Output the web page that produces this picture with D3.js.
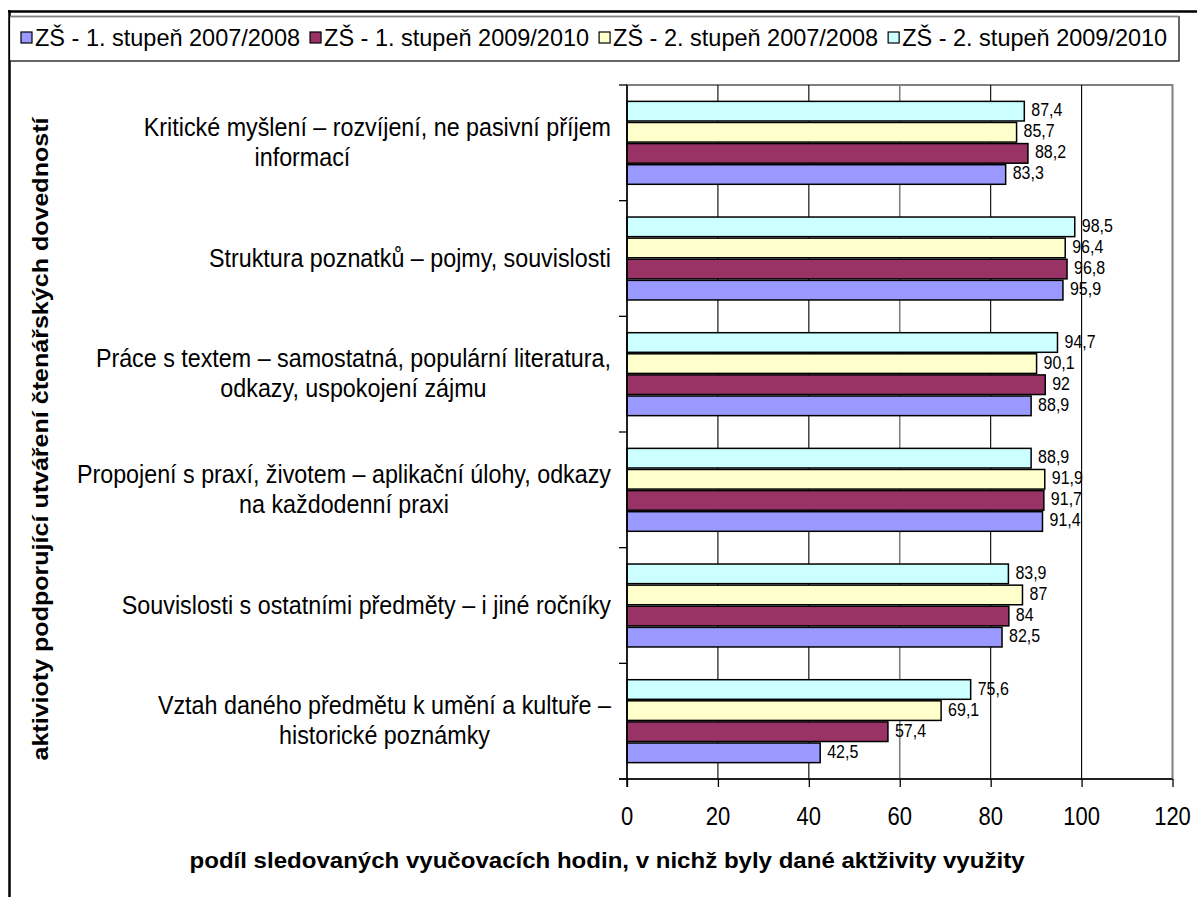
<!DOCTYPE html>
<html>
<head>
<meta charset="utf-8">
<script src="https://cdn.jsdelivr.net/npm/d3@7"></script>
<style>
html,body{margin:0;padding:0;background:#fff;}
svg{display:block;}
text{font-family:"Liberation Sans",Arial,sans-serif;fill:#000;}
</style>
</head>
<body>
<svg id="chart" width="1197" height="897"></svg>
<script>
// ---- data ----
const categories = [
  ["Kritické myšlení – rozvíjení, ne pasivní příjem", "informací"],
  ["Struktura poznatků – pojmy, souvislosti"],
  ["Práce s textem – samostatná, populární literatura,", "odkazy, uspokojení zájmu"],
  ["Propojení s praxí, životem – aplikační úlohy, odkazy", "na každodenní praxi"],
  ["Souvislosti s ostatními předměty – i jiné ročníky"],
  ["Vztah daného předmětu k umění a kultuře –", "historické poznámky"]
];
const seriesNames = ["ZŠ - 1. stupeň 2007/2008", "ZŠ - 1. stupeň 2009/2010", "ZŠ - 2. stupeň 2007/2008", "ZŠ - 2. stupeň 2009/2010"];
const seriesColors = ["#9999FF", "#993366", "#FFFFCC", "#CCFFFF"];
const s1_0708 = [83.3, 95.9, 88.9, 91.4, 82.5, 42.5];
const s1_0910 = [88.2, 96.8, 92, 91.7, 84, 57.4];
const s2_0708 = [85.7, 96.4, 90.1, 91.9, 87, 69.1];
const s2_0910 = [87.4, 98.5, 94.7, 88.9, 83.9, 75.6];
const xTicks = [0, 20, 40, 60, 80, 100, 120];
const xTitle = "podíl sledovaných vyučovacích hodin, v nichž byly dané aktživity využity";
const yTitle = "aktivioty podporující utváření čtenářských dovedností";

const seriesValues = [s1_0708, s1_0910, s2_0708, s2_0910];
const SY = 1.12;

const svg = d3.select("#chart");

function txt(parent, x, y, str, size, anchor, weight, sy) {
  return parent.append("text")
    .attr("transform", `translate(${x},${y}) scale(1,${sy || SY})`)
    .attr("text-anchor", anchor || "start")
    .attr("font-size", size)
    .attr("font-weight", weight || "normal")
    .text(str);
}

// ---- frame ----
svg.append("line").attr("x1", 8).attr("x2", 1197).attr("y1", 11.5).attr("y2", 11.5)
  .attr("stroke", "#000").attr("stroke-width", 2.5);
svg.append("line").attr("x1", 9.5).attr("x2", 9.5).attr("y1", 10).attr("y2", 897)
  .attr("stroke", "#000").attr("stroke-width", 2.5);

// ---- plot geometry ----
const plotL = 627, plotR = 1172.5, plotT = 85, plotB = 779;
const x = d3.scaleLinear().domain([0, 120]).range([plotL, plotR]);
const yCat = d3.scaleBand().domain(d3.range(categories.length)).range([plotT, plotB])
  .paddingInner(0.27).paddingOuter(0.135);
const ySer = d3.scaleBand().domain([3, 2, 1, 0]).range([0, yCat.bandwidth()]);

// plot area border
svg.append("rect").attr("x", plotL).attr("y", plotT).attr("width", plotR - plotL).attr("height", plotB - plotT)
  .attr("fill", "#fff").attr("stroke", "#808080").attr("stroke-width", 2);

// gridlines
svg.append("g").selectAll("line").data(xTicks.filter(d => d > 0 && d < 120)).join("line")
  .attr("x1", d => x(d)).attr("x2", d => x(d)).attr("y1", plotT).attr("y2", plotB)
  .attr("stroke", d => d === 60 ? "#808080" : "#000").attr("stroke-width", d => d === 60 ? 1.6 : 1.1);

// bars + value labels
const gBars = svg.append("g");
categories.forEach((c, ci) => {
  seriesValues.forEach((vals, si) => {
    const y0 = yCat(ci) + ySer(si);
    gBars.append("rect")
      .attr("x", x(0)).attr("y", y0 + 0.75)
      .attr("width", x(vals[ci]) - x(0)).attr("height", ySer.bandwidth() - 1.5)
      .attr("fill", seriesColors[si]).attr("stroke", "#000").attr("stroke-width", 1.5);
    txt(svg, x(vals[ci]) + 7, y0 + ySer.bandwidth() / 2 + 5, String(vals[ci]).replace(".", ","), 16, "start");
  });
});

// y axis
const yStep = yCat.step();
svg.append("line").attr("x1", plotL).attr("x2", plotL).attr("y1", plotT).attr("y2", plotB + 8)
  .attr("stroke", "#000").attr("stroke-width", 1.5);
svg.append("g").selectAll("line").data(d3.range(categories.length + 1)).join("line")
  .attr("x1", plotL - 8).attr("x2", plotL).attr("y1", d => plotT + d * yStep).attr("y2", d => plotT + d * yStep)
  .attr("stroke", "#000").attr("stroke-width", 1.3);

// x axis
svg.append("line").attr("x1", plotL - 8).attr("x2", plotR).attr("y1", plotB).attr("y2", plotB)
  .attr("stroke", "#000").attr("stroke-width", 1.5);
const xAxis = d3.axisBottom(x).tickValues(xTicks).tickSize(8).tickFormat(() => "");
const gx = svg.append("g").attr("transform", `translate(0,${plotB})`).call(xAxis);
gx.select(".domain").remove();
gx.selectAll(".tick line").attr("stroke", "#000").attr("stroke-width", 1.3);
xTicks.forEach(t => txt(svg, x(t), 825, String(t), 22, "middle", "normal", 1.16));

// category labels (right edge at 611, lines centred; first label's 2nd line sits further left as in source)
const lineShift = [[0, -75], [0], [0, 0], [0, 0], [0], [0, 0]];
categories.forEach((lines, ci) => {
  const cy = yCat(ci) + yCat.bandwidth() / 2;
  const n = lines.length;
  const g = svg.append("g");
  const tmp = lines.map(l => txt(g, 0, 0, l, 23.3, "middle", "normal", 1.08));
  const widths = tmp.map(t => t.node().getComputedTextLength());
  const maxW = d3.max(widths);
  const cx = 611 - maxW / 2;
  tmp.forEach((t, li) => {
    const ly = cy + (li - (n - 1) / 2) * 30 + 8;
    t.attr("transform", `translate(${cx + lineShift[ci][li]},${ly}) scale(1,1.08)`);
  });
});

// axis titles
txt(svg, 607, 868, xTitle, 20, "middle", "bold", 1.12).attr("textLength", 835).attr("lengthAdjust", "spacingAndGlyphs");
svg.append("text")
  .attr("transform", `translate(48,439) rotate(-90) scale(1,1.1)`)
  .attr("text-anchor", "middle").attr("font-size", 20).attr("font-weight", "bold")
  .attr("textLength", 643).attr("lengthAdjust", "spacingAndGlyphs")
  .text(yTitle);

// legend
svg.append("rect").attr("x", 9.5).attr("y", 16.5).attr("width", 1169.5).attr("height", 44.5)
  .attr("fill", "#fff").attr("stroke", "#000").attr("stroke-width", 1.2);
svg.append("line").attr("x1", 10).attr("x2", 1179).attr("y1", 16.5).attr("y2", 16.5)
  .attr("stroke", "#808080").attr("stroke-width", 1.5);
let lx = 21;
seriesNames.forEach((name, i) => {
  svg.append("rect").attr("x", lx).attr("y", 32).attr("width", 11).attr("height", 11)
    .attr("fill", seriesColors[i]).attr("stroke", "#000").attr("stroke-width", 1.2);
  const t = txt(svg, lx + 14, 46, name, 23.5, "start", "normal", 1.05);
  lx += 14 + t.node().getComputedTextLength() + 10;
});
</script>
</body>
</html>
